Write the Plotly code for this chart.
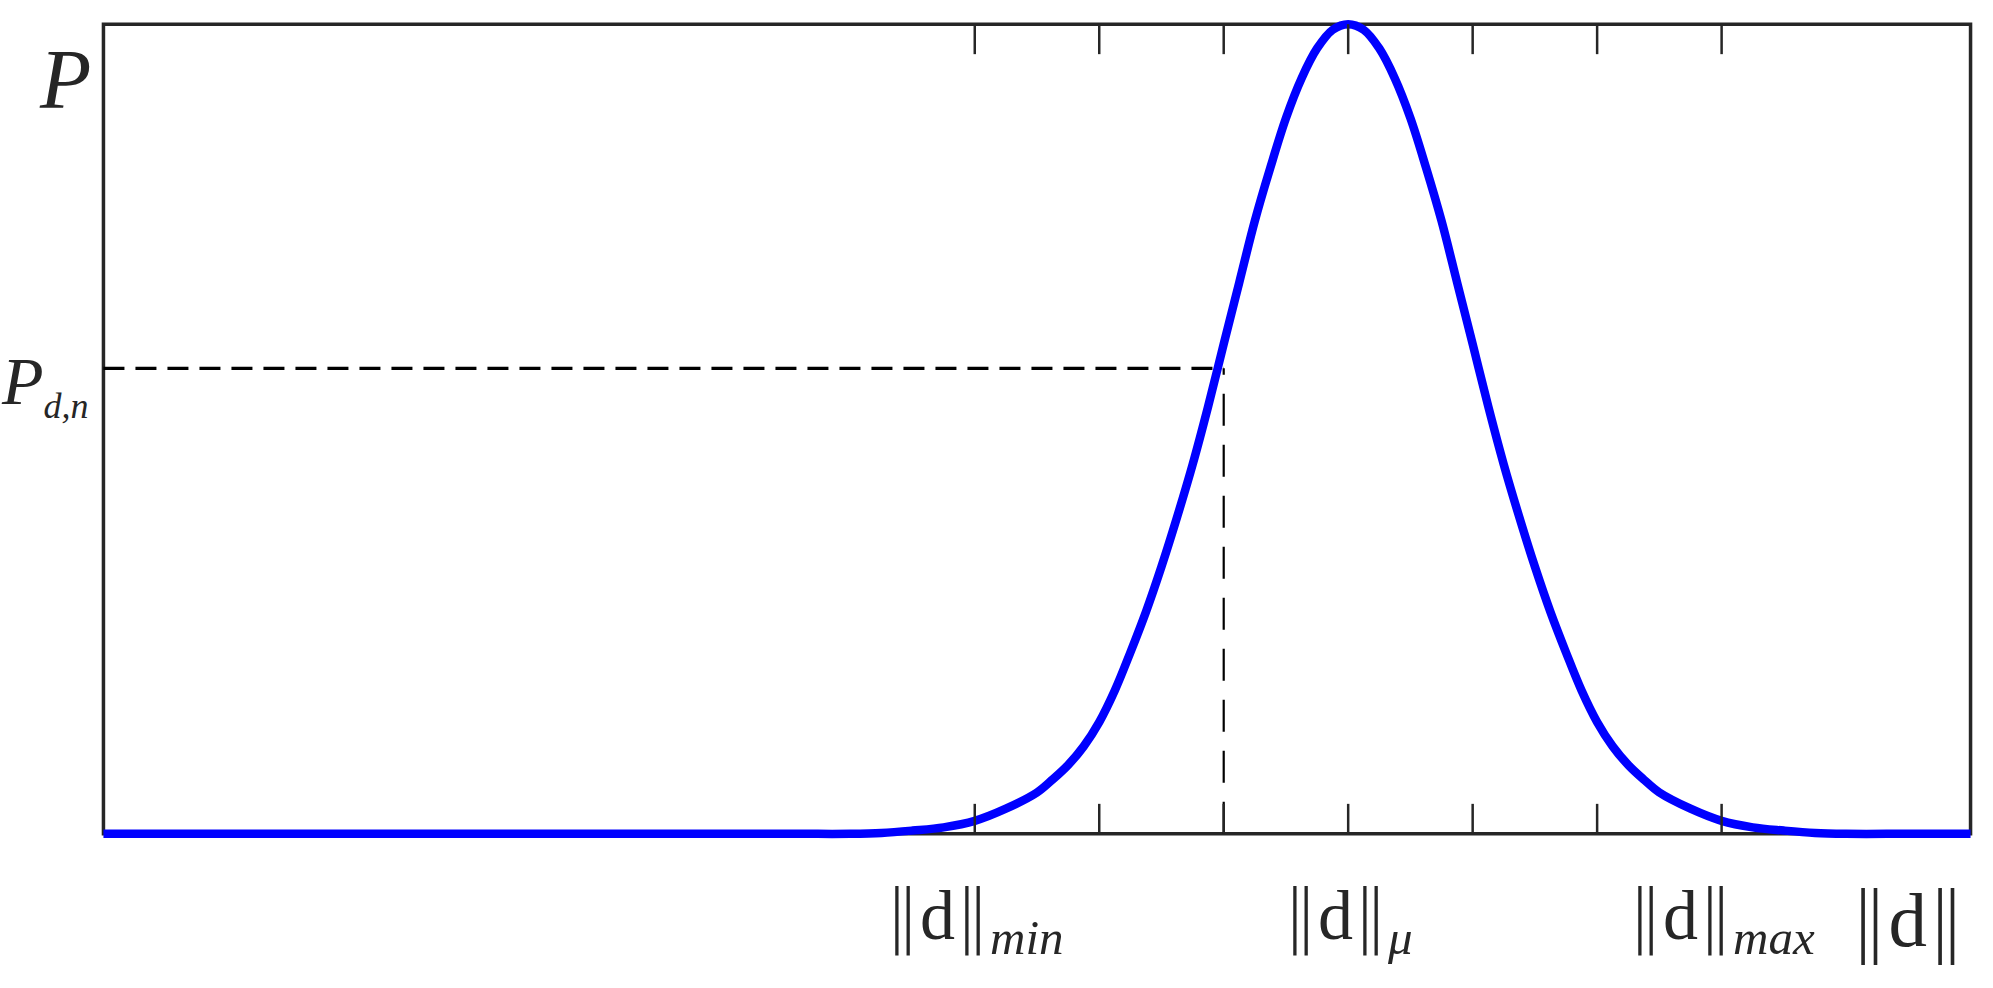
import plotly.graph_objects as go

# curve: x in tick units (ticks at 7..13), y scaled to the peak
d_vals = [0, 5.5, 6.0, 6.25, 6.5, 6.75, 7.0, 7.25, 7.5, 7.625, 7.75, 7.875,
          8.0, 8.125, 8.25, 8.375, 8.5, 8.625, 8.75, 8.875, 9.0, 9.125, 9.25, 9.375,
          9.5, 9.625, 9.75, 9.875, 10.0, 10.125, 10.25, 10.375, 10.5, 10.625, 10.75, 10.875,
          11.0, 11.125, 11.25, 11.375, 11.5, 11.625, 11.75, 11.875, 12.0,
          12.125, 12.25, 12.375, 12.5, 12.75, 13.0, 13.25, 13.5, 13.75, 14.0, 14.5, 15]
p_vals = [0, 0, 0, 0.001, 0.004, 0.008, 0.016, 0.031, 0.051, 0.067, 0.085, 0.108,
          0.138, 0.177, 0.224, 0.274, 0.33, 0.391, 0.456, 0.528, 0.605, 0.681, 0.757, 0.823,
          0.884, 0.933, 0.97, 0.993, 1.0, 0.993, 0.97, 0.933, 0.884, 0.823, 0.757, 0.681,
          0.605, 0.528, 0.456, 0.391, 0.33, 0.274, 0.224, 0.177, 0.138,
          0.108, 0.085, 0.067, 0.051, 0.031, 0.016, 0.008, 0.004, 0.001, 0, 0, 0]

x_min, x_max = 0, 15
tick_vals = [7, 8, 9, 10, 11, 12, 13]
tick_subs = {7: "min", 10: "μ", 13: "max"}
x_title_pos = 14.5

d_n = 9.0       # threshold on the x axis
p_dn = 0.575    # P_{d,n}

FRAME = "#262626"
SERIF = "Liberation Serif"
BARS = "<span style='font-family:DejaVu Sans;font-weight:200'>‖</span>"
NORM = BARS + "d" + BARS

fig = go.Figure()

fig.add_trace(go.Scatter(x=d_vals, y=p_vals, mode="lines",
                         line=dict(color="#0000ff", width=8.5, shape="spline", smoothing=1.0,
                                   simplify=False),
                         hoverinfo="skip", showlegend=False))

# dashed guides
fig.add_trace(go.Scatter(x=[x_min, d_n], y=[p_dn, p_dn], mode="lines",
                         line=dict(color="black", width=3.2, dash="21px,11px"),
                         hoverinfo="skip", showlegend=False))
fig.add_trace(go.Scatter(x=[d_n, d_n], y=[0, p_dn], mode="lines",
                         line=dict(color="black", width=2.2, dash="32px,19px"),
                         hoverinfo="skip", showlegend=False))

# box drawn by hand so the thick curve is not clipped at y=0
shapes = [dict(type="rect", xref="x", yref="y", x0=x_min, x1=x_max, y0=0, y1=1,
               line=dict(color=FRAME, width=3.5), layer="below")]
tick_len = 0.037
for t in tick_vals:
    shapes.append(dict(type="line", xref="x", yref="y", x0=t, x1=t, y0=0, y1=tick_len,
                       line=dict(color=FRAME, width=2.5), layer="above"))
    shapes.append(dict(type="line", xref="x", yref="y", x0=t, x1=t, y0=1, y1=1 - tick_len,
                       line=dict(color=FRAME, width=2.5), layer="above"))

annotations = []
for t, sub in tick_subs.items():
    annotations.append(dict(x=t, y=-0.083, xref="x", yref="paper",
                            text=NORM + "<sub><i>" + sub + "</i></sub>", showarrow=False,
                            xanchor="center", yanchor="middle",
                            font=dict(family=SERIF, size=70, color=FRAME)))
annotations.append(dict(x=x_title_pos, y=-0.083, xref="x", yref="paper", text=NORM, showarrow=False,
                        xanchor="center", yanchor="middle",
                        font=dict(family=SERIF, size=77, color=FRAME)))
annotations.append(dict(x=0.001, y=0.9145, xref="paper", yref="paper", text="<i>P</i>",
                        showarrow=False, xanchor="right", yanchor="middle",
                        font=dict(family=SERIF, size=84, color=FRAME)))
annotations.append(dict(x=0.0, y=0.553, xref="paper", yref="paper",
                        text="<i>P</i><sub><span style='font-size:36px'><i>d,n</i></span></sub>",
                        showarrow=False, xanchor="right", yanchor="middle",
                        font=dict(family=SERIF, size=68, color=FRAME)))

fig.update_layout(
    width=1993, height=988,
    margin=dict(l=91, r=10, t=8, b=138),
    paper_bgcolor="white", plot_bgcolor="white",
    xaxis=dict(range=[-0.1, 15.1], visible=False),
    yaxis=dict(range=[-0.02, 1.02], visible=False),
    shapes=shapes, annotations=annotations,
)

fig.write_html("out.html", config={"displayModeBar": False},
               post_script="document.body.style.margin='0';")
